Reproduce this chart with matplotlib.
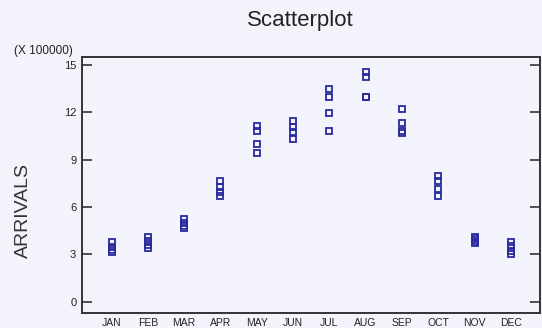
import matplotlib
matplotlib.use("Agg")
import matplotlib.pyplot as plt

plt.rcParams['font.family'] = ['Liberation Sans', 'DejaVu Sans']

months = ["JAN", "FEB", "MAR", "APR", "MAY", "JUN", "JUL", "AUG", "SEP", "OCT", "NOV", "DEC"]
# arrivals per month (x 100000), one value per year
arrivals = [
    [3.78, 3.50, 3.30, 3.18],
    [4.13, 3.88, 3.61, 3.40],
    [5.23, 4.98, 4.80, 4.66],
    [7.68, 7.30, 6.98, 6.71],
    [11.14, 10.82, 9.98, 9.41],
    [11.47, 11.09, 10.78, 10.30],
    [13.46, 12.96, 11.98, 10.82],
    [14.58, 14.22, 13.00, 12.95],
    [12.19, 11.31, 10.80, 10.72],
    [7.97, 7.68, 7.13, 6.71],
    [4.10, 3.95, 3.85, 3.72],
    [3.80, 3.54, 3.25, 3.05],
]
yticks = [0, 3, 6, 9, 12, 15]

bg = '#f3f3fb'
fig = plt.figure(figsize=(5.42, 3.28), dpi=100, facecolor=bg)
ax = fig.add_axes([0.151, 0.046, 0.845, 0.780], facecolor=bg)

for i, vals in enumerate(arrivals):
    ax.plot([i + 1] * len(vals), vals, linestyle='none', marker='s', markersize=5,
            markerfacecolor='none', markeredgecolor='#2a2aa0', markeredgewidth=1.3)

ax.set_xlim(0.18, 12.8)
ax.set_ylim(-0.7, 15.5)
ax.set_xticks(range(1, 13))
ax.set_xticklabels(months, fontsize=7.5, color='#222222')
ax.set_yticks(yticks)
ax.set_yticklabels([str(v) for v in yticks], fontsize=8, color='#222222')
ax.tick_params(axis='x', length=0, pad=4)
ax.tick_params(axis='y', direction='in', length=7, width=1.2, right=True,
               color='#333333', pad=4)
for s in ax.spines.values():
    s.set_linewidth(1.4)
    s.set_color('#333333')

ax.set_ylabel("ARRIVALS", fontsize=14, color='#333333')
ax.yaxis.set_label_coords(-0.108, 0.40)
fig.text(0.555, 0.92, "Scatterplot", ha='center', fontsize=16, color='#222222')
# scale note for the y axis
fig.text(0.026, 0.835, "(X 100000)", ha='left', fontsize=8.5, color='#222222')

fig.savefig("out.png", dpi=100, facecolor=bg)
